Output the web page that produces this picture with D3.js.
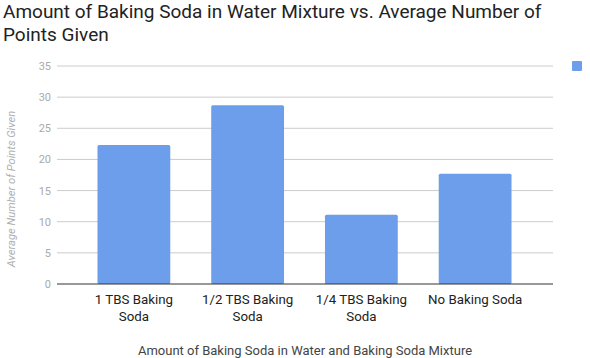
<!DOCTYPE html>
<html><head><meta charset="utf-8">
<script src="https://cdn.jsdelivr.net/npm/d3@7"></script>
<style>body{margin:0;background:#fff;} svg{display:block;font-family:Roboto,sans-serif;}</style>
</head><body><svg id="c" width="590" height="358"></svg>
<script>
const categories = [["1 TBS Baking","Soda"],["1/2 TBS Baking","Soda"],["1/4 TBS Baking","Soda"],["No Baking Soda"]];
const values = [22.3, 28.7, 11.1, 17.7];
const yTicks = [0,5,10,15,20,25,30,35];
const titleLines = ["Amount of Baking Soda in Water Mixture vs. Average Number of","Points Given"];
const xTitle = "Amount of Baking Soda in Water and Baking Soda Mixture";
const yTitle = "Average Number of Points Given";

const svg = d3.select("#c");
const keys = categories.map((c,i)=>i);
const x = d3.scaleBand().domain(keys).range([77,532]).paddingInner(0.36).paddingOuter(0.18);
const y = d3.scaleLinear().domain([0,35]).range([284,66]);

svg.append("g").selectAll("line").data(yTicks.filter(t=>t>0)).join("line")
  .attr("x1",57).attr("x2",553).attr("y1",d=>y(d)).attr("y2",d=>y(d))
  .attr("stroke","#cccccc").attr("stroke-width",1);

svg.append("g").selectAll("text").data(yTicks).join("text")
  .attr("x",51).attr("y",d=>y(d)+4).attr("text-anchor","end")
  .attr("font-size",11).attr("fill","#aaaaaa").text(d=>d);

svg.append("g").selectAll("rect").data(values).join("rect")
  .attr("x",(d,i)=>x(i)).attr("width",x.bandwidth())
  .attr("y",d=>y(d)).attr("height",d=>y(0)-y(d))
  .attr("rx",1.5).attr("fill","#6d9eeb");

svg.append("line").attr("x1",57).attr("x2",553).attr("y1",y(0)).attr("y2",y(0))
  .attr("stroke","#333333").attr("stroke-width",1);

const cl = svg.append("g").selectAll("text").data(categories).join("text")
  .attr("text-anchor","middle").attr("font-size",13.3).attr("fill","#222222");
cl.each(function(d,i){
  const t = d3.select(this);
  d.forEach((line,j)=>{
    t.append("tspan").attr("x",x(i)+x.bandwidth()/2).attr("y",304+j*16.5).text(line);
  });
});

svg.append("text").attr("x",305).attr("y",355).attr("text-anchor","middle")
  .attr("font-size",13).attr("fill","#444444").text(xTitle);

svg.append("text").attr("transform","translate(15,189) rotate(-90)")
  .attr("text-anchor","middle").attr("font-size",11.2).attr("font-style","italic")
  .attr("fill","#b0b0b0").text(yTitle);

svg.append("g").selectAll("text").data(titleLines).join("text")
  .attr("x",3).attr("y",(d,i)=>18+i*22.6).attr("font-size",19).attr("fill","#222222").text(d=>d);

svg.append("rect").attr("x",572).attr("y",61).attr("width",10).attr("height",10)
  .attr("rx",1).attr("fill","#6d9eeb");
</script></body></html>
